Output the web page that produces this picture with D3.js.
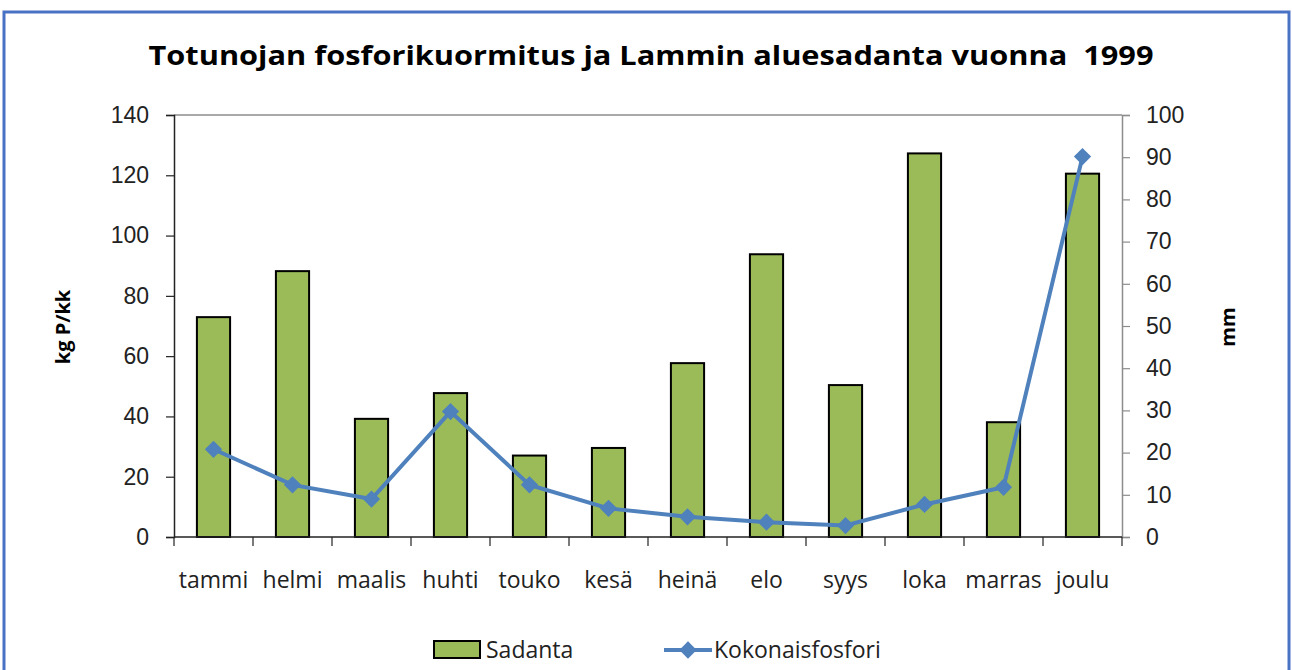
<!DOCTYPE html>
<html><head><meta charset="utf-8">
<script src="https://cdn.jsdelivr.net/npm/d3@7"></script>
<style>
html,body{margin:0;padding:0;background:#fff;}
svg{display:block;font-family:"Open Sans",sans-serif;}
</style></head>
<body>
<svg id="chart" width="1292" height="670"></svg>
<script>
const months = ["tammi","helmi","maalis","huhti","touko","kesä","heinä","elo","syys","loka","marras","joulu"];
const sadanta = [52.1, 63.0, 28.0, 34.1, 19.3, 21.1, 41.2, 67.0, 36.0, 90.9, 27.2, 86.1]; // mm
const fosfori = [29.1, 17.3, 12.6, 41.6, 17.3, 9.5, 6.7, 4.9, 3.8, 10.8, 16.5, 126.2]; // kg P/kk
const leftTicks = [0,20,40,60,80,100,120,140];
const rightTicks = [0,10,20,30,40,50,60,70,80,90,100];
const titleText = "Totunojan fosforikuormitus ja Lammin aluesadanta vuonna  1999";

const svg = d3.select("#chart");
const m = {left:174, right:1122, top:115, bottom:537};

// outer frame
svg.append("rect").attr("x",4).attr("y",12).attr("width",1285).attr("height",680)
  .attr("fill","none").attr("stroke","#4a72c4").attr("stroke-width",3);

const x = d3.scaleBand().domain(months).range([m.left,m.right]).paddingInner(0).paddingOuter(0);
const yL = d3.scaleLinear().domain([0,140]).range([m.bottom,m.top]);
const yR = d3.scaleLinear().domain([0,100]).range([m.bottom,m.top]);

// plot area border (top)
svg.append("line").attr("x1",m.left).attr("x2",m.right).attr("y1",m.top).attr("y2",m.top)
  .attr("stroke","#8c8c8c").attr("stroke-width",1.5);

// bars (Sadanta, mm, right axis)
const bw = x.bandwidth()*0.42;
svg.append("g").selectAll("rect").data(months).join("rect")
  .attr("x",d=>x(d)+x.bandwidth()/2-bw/2)
  .attr("y",(d,i)=>yR(sadanta[i]))
  .attr("width",bw)
  .attr("height",(d,i)=>yR(0)-yR(sadanta[i]))
  .attr("fill","#9bbb59").attr("stroke","#000").attr("stroke-width",2);

// axes
const axL = svg.append("g").attr("transform",`translate(${m.left},0)`)
  .call(d3.axisLeft(yL).tickValues(leftTicks).tickSize(8).tickPadding(17));
axL.select(".domain").attr("stroke","#222").attr("stroke-width",1.5);
axL.selectAll(".tick line").attr("stroke","#222").attr("stroke-width",1.2);
axL.selectAll("text").attr("font-size",23).attr("fill","#222");

const axR = svg.append("g").attr("transform",`translate(${m.right},0)`)
  .call(d3.axisRight(yR).tickValues(rightTicks).tickSize(8).tickPadding(16));
axR.select(".domain").attr("stroke","#8c8c8c").attr("stroke-width",1.5);
axR.selectAll(".tick line").attr("stroke","#8c8c8c").attr("stroke-width",1.2);
axR.selectAll("text").attr("font-size",23).attr("fill","#222");

// bottom axis
const bx = svg.append("g").attr("transform",`translate(0,${m.bottom})`);
bx.append("line").attr("x1",m.left).attr("x2",m.right).attr("y1",0).attr("y2",0)
  .attr("stroke","#222").attr("stroke-width",1.5);
const bounds = months.map(d=>x(d)).concat([m.right]);
bx.selectAll("line.tk").data(bounds).join("line").attr("class","tk")
  .attr("x1",d=>d).attr("x2",d=>d).attr("y1",0).attr("y2",9)
  .attr("stroke","#222").attr("stroke-width",1.2);
bx.selectAll("text").data(months).join("text")
  .attr("x",d=>x(d)+x.bandwidth()/2).attr("y",51)
  .attr("text-anchor","middle").attr("font-size",23).attr("fill","#222")
  .text(d=>d);

// line (Kokonaisfosfori, left axis)
const lineGen = d3.line().x((d,i)=>x(months[i])+x.bandwidth()/2).y(d=>yL(d));
svg.append("path").datum(fosfori).attr("d",lineGen)
  .attr("fill","none").attr("stroke","#4f81bd").attr("stroke-width",4);
const diamond = d3.symbol().type(d3.symbolDiamond2).size(190);
svg.append("g").selectAll("path").data(fosfori).join("path")
  .attr("d",diamond)
  .attr("transform",(d,i)=>`translate(${x(months[i])+x.bandwidth()/2},${yL(d)})`)
  .attr("fill","#4f81bd");

// title
svg.append("text").attr("x",651).attr("y",65).attr("text-anchor","middle")
  .attr("font-size",27).attr("font-weight","bold").attr("fill","#000")
  .style("white-space","pre")
  .attr("textLength",1005).attr("lengthAdjust","spacingAndGlyphs")
  .text(titleText);

// axis titles
svg.append("text").attr("transform","translate(70,327) rotate(-90)")
  .attr("text-anchor","middle").attr("font-size",20).attr("font-weight","bold").text("kg P/kk");
svg.append("text").attr("transform","translate(1235,327) rotate(-90)")
  .attr("text-anchor","middle").attr("font-size",20).attr("font-weight","bold").text("mm");

// legend
const lg = svg.append("g");
lg.append("rect").attr("x",434).attr("y",641).attr("width",46).attr("height",17)
  .attr("fill","#9bbb59").attr("stroke","#000").attr("stroke-width",2);
lg.append("text").attr("x",486).attr("y",658).attr("font-size",23).attr("fill","#222").text("Sadanta");
lg.append("line").attr("x1",664).attr("x2",712).attr("y1",650).attr("y2",650)
  .attr("stroke","#4f81bd").attr("stroke-width",4);
lg.append("path").attr("d",diamond).attr("transform","translate(688,650)").attr("fill","#4f81bd");
lg.append("text").attr("x",714).attr("y",658).attr("font-size",23).attr("fill","#222").text("Kokonaisfosfori");
</script>
</body></html>
